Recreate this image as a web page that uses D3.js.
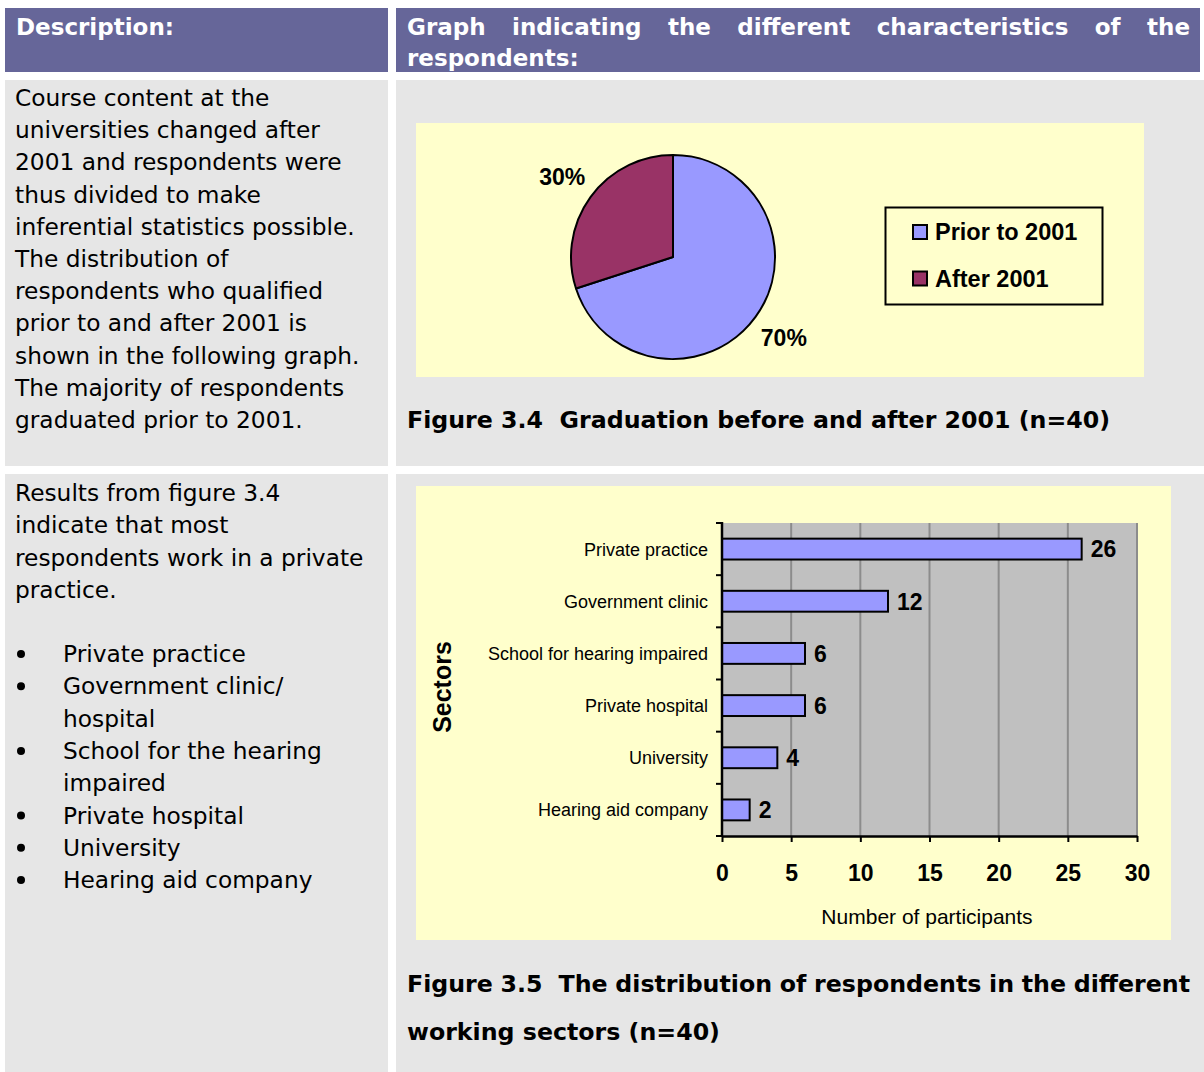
<!DOCTYPE html>
<html><head><meta charset="utf-8">
<script src="https://cdn.jsdelivr.net/npm/d3@7"></script>
<style>body{margin:0;background:#fff}svg{display:block}</style>
</head><body>
<script>
// ---------- data ----------
const headerLeft = "Description:";
const headerRight = ["Graph indicating the different characteristics of the", "respondents:"];
const descText1 = ["Course content at the", "universities changed after", "2001 and respondents were",
  "thus divided to make", "inferential statistics possible.", "The distribution of",
  "respondents who qualified", "prior to and after 2001 is", "shown in the following graph.",
  "The majority of respondents", "graduated prior to 2001."];
const descText2 = ["Results from figure 3.4", "indicate that most", "respondents work in a private", "practice."];
const bulletItems = [["Private practice"], ["Government clinic/", "hospital"], ["School for the hearing", "impaired"],
  ["Private hospital"], ["University"], ["Hearing aid company"]];
const pieLabels = ["Prior to 2001", "After 2001"];
const pieValues = [70, 30];
const pieCaption = "Figure 3.4  Graduation before and after 2001 (n=40)";
const sectors = ["Private practice", "Government clinic", "School for hearing impaired",
  "Private hospital", "University", "Hearing aid company"];
const participants = [26, 12, 6, 6, 4, 2];
const xTicks = [0, 5, 10, 15, 20, 25, 30];
const barCaption = ["Figure 3.5  The distribution of respondents in the different", "working sectors (n=40)"];
const xTitle = "Number of participants";
const yTitle = "Sectors";

// ---------- styles ----------
const BODY = "'DejaVu Sans', Verdana, sans-serif";
const CHART = "'Liberation Sans', Arial, sans-serif";
const C = {header: "#666699", cell: "#e6e6e6", yellow: "#ffffcc", plot: "#c0c0c0",
  grid: "#8c8c8c", blue: "#9999ff", maroon: "#993366"};

const W = 1204, H = 1072;
const svg = d3.select("body").append("svg").attr("width", W).attr("height", H);

// table cells
const cells = [
  [5, 8, 383, 64, C.header], [396, 8, 804, 64, C.header],
  [5, 80, 383, 386, C.cell], [396, 80, 808, 386, C.cell],
  [5, 474, 383, 598, C.cell], [396, 474, 808, 598, C.cell]
];
svg.selectAll("rect.cell").data(cells).join("rect").attr("class", "cell")
  .attr("x", d => d[0]).attr("y", d => d[1]).attr("width", d => d[2]).attr("height", d => d[3])
  .attr("fill", d => d[4]);

function justify(words, x0, x1, y, attrs) {
  const g = svg.append("g");
  const mk = s => {
    const t = g.append("text").text(s).attr("y", y);
    for (const k in attrs) t.attr(k, attrs[k]);
    return t;
  };
  const probe1 = mk("x x"), probe2 = mk("xx");
  const sp = probe1.node().getComputedTextLength() - probe2.node().getComputedTextLength();
  probe1.remove(); probe2.remove();
  const parts = words.split(" ");
  const ws = []; const gaps = [];
  let pending = 0;
  parts.forEach(p => {
    if (p === "") { pending += 1; return; }
    if (ws.length) gaps.push(1 + pending);
    pending = 0;
    ws.push(p);
  });
  const nodes = ws.map(w => mk(w));
  const widths = nodes.map(n => n.node().getComputedTextLength());
  const sumW = d3.sum(widths), sumG = d3.sum(gaps) * sp;
  const extra = gaps.length ? (x1 - x0 - sumW - sumG) / gaps.length : 0;
  let xx = x0;
  nodes.forEach((n, i) => {
    n.attr("x", xx);
    xx += widths[i] + (i < gaps.length ? gaps[i] * sp + extra : 0);
  });
  return g;
}
function line(str, x, y, attrs) {
  const t = svg.append("text").attr("x", x).attr("y", y).text(str).attr("xml:space", "preserve");
  for (const k in attrs) t.attr(k, attrs[k]);
  return t;
}

// headers
const hdr = {"font-family": BODY, "font-weight": "bold", "font-size": 23, fill: "#fff"};
line(headerLeft, 16, 35, hdr);
justify(headerRight[0], 407, 1190, 35, hdr);
line(headerRight[1], 407, 66, hdr);

// description texts
const body = {"font-family": BODY, "font-size": 23.3, fill: "#000"};
descText1.forEach((s, i) => line(s, 15, 106 + i * 32.2, body));
descText2.forEach((s, i) => line(s, 15, 501 + i * 32.3, body));
let by = 662;
bulletItems.forEach(item => {
  svg.append("circle").attr("cx", 21).attr("cy", by - 8).attr("r", 4).attr("fill", "#000");
  item.forEach(s => { line(s, 63, by, body); by += 32.3; });
});

// ---------- pie chart ----------
svg.append("rect").attr("x", 416).attr("y", 123).attr("width", 728).attr("height", 254).attr("fill", C.yellow);
const pcx = 673, pcy = 257, pr = 102;
const pieColors = d3.scaleOrdinal().domain(pieLabels).range([C.blue, C.maroon]);
const pieData = d3.pie().sort(null).value(d => d.v)(pieLabels.map((l, i) => ({l, v: pieValues[i]})));
const arc = d3.arc().innerRadius(0).outerRadius(pr);
const labArc = d3.arc().innerRadius(137).outerRadius(137);
const pg = svg.append("g").attr("transform", `translate(${pcx},${pcy})`);
pg.selectAll("path").data(pieData).join("path").attr("d", arc)
  .attr("fill", d => pieColors(d.data.l)).attr("stroke", "#000").attr("stroke-width", 2).attr("stroke-linejoin", "round");
pg.selectAll("text").data(pieData).join("text")
  .attr("transform", d => `translate(${labArc.centroid(d)})`)
  .attr("text-anchor", "middle").attr("dy", "0.36em")
  .attr("font-family", CHART).attr("font-weight", "bold").attr("font-size", 23)
  .text(d => d.data.v + "%");
// legend
svg.append("rect").attr("x", 885.5).attr("y", 207.5).attr("width", 217).attr("height", 97)
  .attr("fill", "none").attr("stroke", "#000").attr("stroke-width", 2);
const lg = svg.append("g");
pieLabels.forEach((l, i) => {
  const yy = 232 + i * 46.5;
  lg.append("rect").attr("x", 913).attr("y", yy - 7).attr("width", 14).attr("height", 14)
    .attr("fill", pieColors(l)).attr("stroke", "#000").attr("stroke-width", 2);
  lg.append("text").attr("x", 935).attr("y", yy).attr("dy", "0.36em")
    .attr("font-family", CHART).attr("font-weight", "bold").attr("font-size", 23.5).text(l);
});
const cap = {"font-family": BODY, "font-weight": "bold", "font-size": 23.7, fill: "#000"};
line(pieCaption, 407, 428, cap);

// ---------- bar chart ----------
svg.append("rect").attr("x", 416).attr("y", 486).attr("width", 755).attr("height", 454).attr("fill", C.yellow);
const x = d3.scaleLinear().domain([0, 30]).range([722, 1137]);
const y = d3.scaleBand().domain(sectors).range([523, 836]).paddingInner(0.6).paddingOuter(0.3);
svg.append("rect").attr("x", x(0)).attr("y", 523).attr("width", x(30) - x(0)).attr("height", 836 - 523).attr("fill", C.plot);
// gridlines
svg.append("g").selectAll("line").data(xTicks.slice(1)).join("line")
  .attr("x1", d => x(d)).attr("x2", d => x(d)).attr("y1", 523).attr("y2", 836)
  .attr("stroke", C.grid).attr("stroke-width", 2);
// bars
svg.append("g").selectAll("rect").data(sectors).join("rect")
  .attr("x", x(0)).attr("y", d => y(d)).attr("height", y.bandwidth())
  .attr("width", (d, i) => x(participants[i]) - x(0))
  .attr("fill", C.blue).attr("stroke", "#000").attr("stroke-width", 2);
// value labels
svg.append("g").selectAll("text").data(sectors).join("text")
  .attr("x", (d, i) => x(participants[i]) + 9).attr("y", d => y(d) + y.bandwidth() / 2).attr("dy", "0.36em")
  .attr("font-family", CHART).attr("font-weight", "bold").attr("font-size", 23)
  .text((d, i) => participants[i]);
// y axis line + boundary ticks
const step = y.step();
const bounds = d3.range(sectors.length + 1).map(i => 523 + i * step);
svg.append("g").selectAll("line").data(bounds).join("line")
  .attr("x1", 716).attr("x2", x(0)).attr("y1", d => d).attr("y2", d => d)
  .attr("stroke", "#000").attr("stroke-width", 2);
svg.append("line").attr("x1", x(0)).attr("x2", x(0)).attr("y1", 522).attr("y2", 837).attr("stroke", "#000").attr("stroke-width", 2.5);
svg.append("g").selectAll("text").data(sectors).join("text")
  .attr("x", 708).attr("y", d => y(d) + y.bandwidth() / 2).attr("dy", "0.36em").attr("text-anchor", "end")
  .attr("font-family", CHART).attr("font-size", 18).text(d => d);
// x axis
const xa = svg.append("g").attr("transform", "translate(0,836)")
  .call(d3.axisBottom(x).tickValues(xTicks).tickSize(6).tickPadding(23).tickSizeOuter(0));
xa.select(".domain").attr("stroke", "#000").attr("stroke-width", 2.5);
xa.selectAll(".tick line").attr("stroke", "#000").attr("stroke-width", 2);
xa.selectAll(".tick text").attr("font-family", CHART).attr("font-weight", "bold").attr("font-size", 23).attr("fill", "#000");
svg.append("text").attr("x", 927).attr("y", 924).attr("text-anchor", "middle")
  .attr("font-family", CHART).attr("font-size", 21).text(xTitle);
svg.append("text").attr("transform", "translate(451,687) rotate(-90)").attr("text-anchor", "middle")
  .attr("font-family", CHART).attr("font-weight", "bold").attr("font-size", 25).text(yTitle);

justify(barCaption[0], 407, 1190, 992, cap);
line(barCaption[1], 407, 1040, cap);
</script>
</body></html>
